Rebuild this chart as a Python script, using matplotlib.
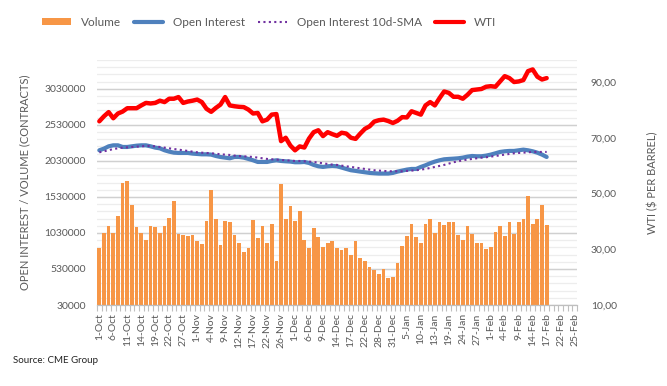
import numpy as np
import pandas as pd
import matplotlib
matplotlib.use("Agg")
import matplotlib.pyplot as plt
from matplotlib.lines import Line2D
from matplotlib.patches import Patch
from matplotlib.ticker import FixedLocator, FuncFormatter

plt.rcParams['font.family'] = ['Lato', 'DejaVu Sans']

# trading days on the category axis (US holidays left out)
holidays = ['2021-11-25', '2021-12-24', '2022-01-17']
days = pd.bdate_range('2021-10-01', '2022-02-25', freq='C', holidays=holidays)
day_labels = [f"{d.day}-{d.strftime('%b')}" for d in days]

volume = [815, 1036, 1133, 1036, 1272, 1724, 1757, 1424, 1106, 1036,
          939, 1133, 1106, 1023, 1133, 1244, 1480, 1009, 995, 981,
          995, 912, 870, 1189, 1632, 1230, 856, 1189, 1175, 995,
          884, 759, 815, 1203, 953, 1133, 884, 1161, 635, 1715,
          1230, 1410, 1189, 1341, 939, 815, 1092, 967, 829, 884,
          912, 815, 787, 815, 718, 912, 676, 635, 552, 510,
          455, 524, 399, 413, 607, 843, 981, 1161, 967, 884,
          1161, 1217, 1023, 1175, 1147, 1175, 1175, 995, 926, 1120,
          1009, 884, 884, 801, 829, 1050, 1120, 981, 1175, 1009,
          1175, 1230, 1549, 1161, 1217, 1424, 1147]

open_interest = [2177, 2200, 2232, 2246, 2246, 2223, 2223, 2232, 2241, 2246,
                 2246, 2232, 2214, 2204, 2177, 2158, 2144, 2140, 2140, 2140,
                 2131, 2126, 2121, 2121, 2117, 2098, 2084, 2075, 2066, 2084,
                 2084, 2075, 2057, 2038, 2015, 2015, 2015, 2029, 2038, 2029,
                 2024, 2020, 2011, 2011, 2015, 2001, 1974, 1955, 1946, 1955,
                 1960, 1955, 1937, 1918, 1900, 1891, 1881, 1872, 1863, 1858,
                 1854, 1854, 1854, 1863, 1881, 1895, 1909, 1918, 1918, 1946,
                 1969, 1997, 2020, 2038, 2052, 2057, 2061, 2066, 2075, 2089,
                 2098, 2094, 2094, 2103, 2117, 2135, 2154, 2163, 2168, 2168,
                 2177, 2186, 2177, 2163, 2144, 2117, 2084]

oi_sma = [2149, 2163, 2177, 2195, 2204, 2214, 2218, 2223, 2227, 2232,
          2237, 2237, 2232, 2223, 2214, 2204, 2195, 2186, 2177, 2168,
          2158, 2149, 2144, 2140, 2135, 2131, 2121, 2117, 2112, 2103,
          2098, 2094, 2089, 2084, 2075, 2066, 2057, 2052, 2048, 2043,
          2038, 2034, 2029, 2029, 2024, 2020, 2015, 2006, 1997, 1987,
          1978, 1974, 1964, 1955, 1946, 1937, 1927, 1918, 1909, 1900,
          1895, 1891, 1886, 1886, 1886, 1886, 1891, 1895, 1900, 1909,
          1918, 1932, 1946, 1960, 1974, 1992, 2011, 2024, 2038, 2048,
          2057, 2066, 2075, 2080, 2089, 2098, 2107, 2117, 2126, 2135,
          2140, 2144, 2149, 2154, 2154, 2154, 2154]

wti = [75.9, 77.7, 79.2, 77.0, 78.7, 79.4, 80.6, 80.6, 80.6, 81.6,
       82.5, 82.3, 82.5, 83.3, 82.8, 84.0, 84.0, 84.6, 82.5, 83.0,
       83.3, 83.7, 82.8, 80.4, 79.3, 80.7, 81.9, 84.6, 81.6, 81.3,
       81.1, 81.0, 80.1, 78.7, 78.9, 75.9, 76.5, 78.3, 78.5, 68.8,
       70.0, 67.2, 65.5, 66.9, 66.5, 69.7, 72.0, 72.7, 70.6, 72.0,
       71.3, 70.7, 71.8, 71.5, 70.0, 69.6, 71.5, 73.2, 74.1, 75.8,
       76.3, 76.5, 76.0, 75.3, 76.1, 77.4, 77.3, 79.5, 78.9, 78.3,
       81.6, 82.8, 81.6, 84.2, 86.6, 86.1, 84.7, 84.7, 84.0, 85.4,
       87.1, 87.3, 87.5, 88.3, 88.5, 88.3, 90.2, 92.1, 91.4, 90.0,
       90.2, 90.7, 93.9, 94.5, 91.9, 90.9, 91.4]

volume = np.array(volume) * 1000
open_interest = np.array(open_interest) * 1000
oi_sma = np.array(oi_sma) * 1000
n = len(volume)
x = np.arange(n)

orange = '#F79646'
blue = '#4F81BD'
purple = '#7030A0'
grey = '#595959'

fig = plt.figure(figsize=(6.67, 3.86), dpi=100)
ax = fig.add_axes([0.1454, 0.2098, 0.7196, 0.6348])
ax2 = ax.twinx()

# grid from left axis
ax.set_ylim(30000, 3430000)
major = np.arange(30000, 3430001, 500000)
minor = np.arange(30000, 3430001, 100000)
for v in minor:
    ax.axhline(v, color='#EDEDED', lw=0.9, zorder=0)
for v in major:
    ax.axhline(v, color='#D0D0D0', lw=1.0, zorder=0)

ax.bar(x, volume, width=0.8, color=orange, zorder=2)
ax.plot(x, open_interest, color=blue, lw=3, solid_capstyle='round', zorder=3)
ax.plot(x, oi_sma, color=purple, lw=1.5, ls=(0, (1, 1.6)), zorder=4)
ax2.plot(x, wti, color='#FF0000', lw=3.2, solid_capstyle='round', zorder=5)

ax.set_xlim(-0.5, len(days) - 0.5)
ax.yaxis.set_major_locator(FixedLocator(major))
ax.yaxis.set_major_formatter(FuncFormatter(lambda v, p: f"{int(round(v))}"))
ax.tick_params(axis='y', length=0, labelsize=7.5, labelcolor=grey, pad=8)
ax.set_ylabel('OPEN INTEREST / VOLUME (CONTRACTS)', fontsize=8, color=grey, labelpad=10)

ax2.set_ylim(10, 97.9)
ax2.set_yticks([10, 30, 50, 70, 90])
ax2.yaxis.set_major_formatter(FuncFormatter(lambda v, p: f"{v:.2f}".replace('.', ',')))
ax2.tick_params(axis='y', length=0, labelsize=7.5, labelcolor=grey, pad=10)
ax2.set_ylabel('WTI ($ PER BARREL)', fontsize=8, color=grey, labelpad=22)

ticks = np.arange(0, len(days), 3)
ax.set_xticks(ticks)
ax.set_xticklabels([day_labels[i] for i in ticks], rotation=90, fontsize=7.5, color=grey)
ax.set_xticks(np.arange(len(days) + 1) - 0.5, minor=True)
ax.tick_params(axis='x', which='major', length=0, pad=6)
ax.tick_params(axis='x', which='minor', length=4, color='#BFBFBF', width=0.8)

for a in (ax, ax2):
    for s in ('top', 'left', 'right'):
        a.spines[s].set_visible(False)
    a.spines['bottom'].set_color('#BFBFBF')
ax2.patch.set_visible(False)

handles = [Patch(facecolor=orange, edgecolor='none'),
           Line2D([], [], color=blue, lw=3, solid_capstyle='round'),
           Line2D([], [], color=purple, lw=1.5, ls=(0, (1, 1.6))),
           Line2D([], [], color='#FF0000', lw=3, solid_capstyle='round')]
fig.legend(handles, ['Volume', 'Open Interest', 'Open Interest 10d-SMA', 'WTI'],
           loc='center', bbox_to_anchor=(0.403, 0.943), ncol=4, frameon=False,
           fontsize=8.5, labelcolor=grey, handlelength=2.5, handleheight=0.6,
           columnspacing=1.1, handletextpad=0.8)

fig.text(0.02, 0.06, 'Source: CME Group', fontsize=7, color='#222222')

fig.savefig('out.png', dpi=100)
